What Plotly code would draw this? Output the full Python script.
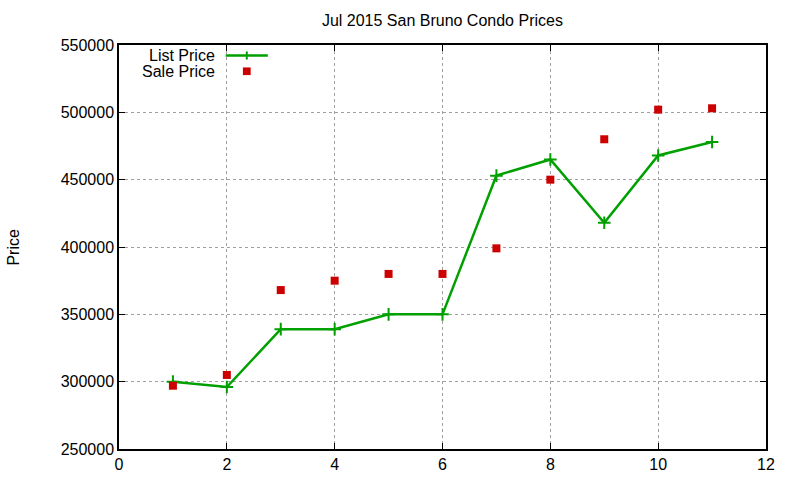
import plotly.graph_objects as go

# data
unit = [1, 2, 3, 4, 5, 6, 7, 8, 9, 10, 11]
list_price = [300000, 296000, 339000, 339000, 350000, 350000,
              453000, 465000, 418000, 468000, 478000]
sale_price = [297000, 305000, 368000, 375000, 380000, 380000,
              399000, 450000, 480000, 502000, 503000]

GREEN = "#00a000"
RED = "#cc0000"
FONT = "Liberation Sans, Arial, sans-serif"

fig = go.Figure()

fig.add_trace(go.Scatter(
    x=unit, y=list_price, name="List Price", mode="lines+markers",
    line=dict(color=GREEN, width=2.5),
    marker=dict(symbol="cross-thin", size=9, line=dict(color=GREEN, width=2)),
))
fig.add_trace(go.Scatter(
    x=unit, y=sale_price, name="Sale Price", mode="markers",
    marker=dict(symbol="square", size=8, color=RED),
))

axis_common = dict(
    showline=True, linecolor="black", linewidth=1.5, mirror="ticks",
    ticks="inside", ticklen=6, tickcolor="black", automargin=False,
    showgrid=True, gridcolor="#a0a0a0", griddash="dot", gridwidth=1,
    zeroline=False, tickfont=dict(size=16, color="black", family=FONT),
)

fig.update_xaxes(range=[0, 12], dtick=2, **axis_common)
fig.update_yaxes(range=[250000, 550000], dtick=50000, tickformat="d", **axis_common)

# gnuplot-style key: text on the left, sample on the right
legend_y = [0.974, 0.935]
for txt, yy in zip(["List Price", "Sale Price"], legend_y):
    fig.add_annotation(xref="paper", yref="paper", x=0.152, y=yy, text=txt,
                       showarrow=False, xanchor="right", yanchor="middle",
                       font=dict(size=16, family=FONT, color="black"))
fig.add_shape(type="line", xref="paper", yref="paper", x0=0.165, x1=0.230,
              y0=legend_y[0], y1=legend_y[0], line=dict(color=GREEN, width=2.5))
fig.add_shape(type="line", xref="paper", yref="paper", x0=0.1975, x1=0.1975,
              y0=legend_y[0] - 0.01, y1=legend_y[0] + 0.01, line=dict(color=GREEN, width=2))
fig.add_shape(type="rect", xref="paper", yref="paper", x0=0.1915, x1=0.2035,
              y0=legend_y[1] - 0.0095, y1=legend_y[1] + 0.0095,
              fillcolor=RED, line=dict(width=0))

fig.add_annotation(xref="paper", yref="paper", x=-0.1645, y=0.5, text="Price",
                   textangle=-90, showarrow=False, xanchor="center", yanchor="middle",
                   font=dict(size=16, family=FONT, color="black"))

fig.update_layout(
    width=800, height=480,
    title=dict(text="Jul 2015 San Bruno Condo Prices", x=0.553, xanchor="center",
               y=0.958, yanchor="middle", font=dict(size=16, family=FONT, color="black")),
    showlegend=False,
    plot_bgcolor="white", paper_bgcolor="white",
    margin=dict(l=119, r=34, t=45, b=31),
    font=dict(family=FONT),
)

fig.write_html("out.html", post_script="document.body.style.margin='0';",
               config={"displayModeBar": False})
